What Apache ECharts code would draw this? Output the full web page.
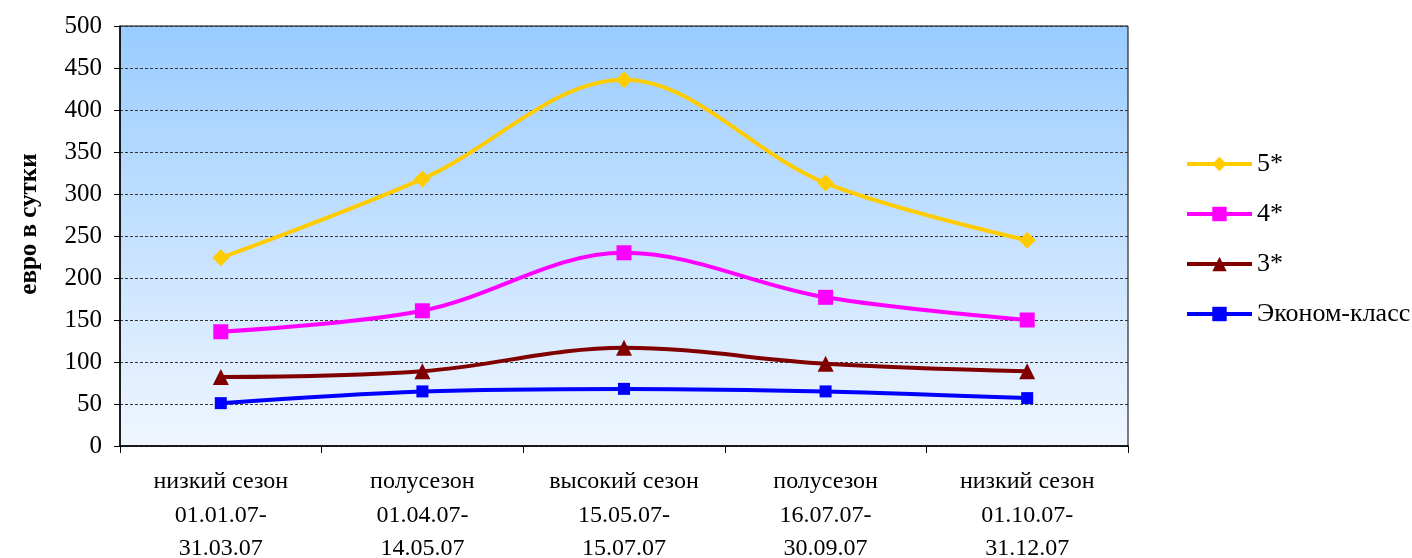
<!DOCTYPE html>
<html>
<head>
<meta charset="utf-8">
<script src="https://cdn.jsdelivr.net/npm/echarts@6/dist/echarts.min.js"></script>
<style>
  html, body { margin: 0; padding: 0; background: #fff; }
  #chart { width: 1412px; height: 558px; }
</style>
</head>
<body>
<div id="chart"></div>
<script>
// Hotel prices per night by season
const categories = [
  'низкий сезон\n01.01.07-\n31.03.07',
  'полусезон\n01.04.07-\n14.05.07',
  'высокий сезон\n15.05.07-\n15.07.07',
  'полусезон\n16.07.07-\n30.09.07',
  'низкий сезон\n01.10.07-\n31.12.07'
];
const fiveStar = [224, 318, 436, 313, 245];
const fourStar = [136, 161, 230, 177, 150];
const threeStar = [82, 89, 117, 98, 89];
const economy = [51, 65, 68, 65, 57];
const yTicks = { min: 0, max: 500, interval: 50 };

const FONT = '"Liberation Serif", "Times New Roman", serif';

function line(name, data, color, symbol, size) {
  return {
    name, type: 'line', data, smooth: 0.35,
    symbol, symbolSize: size,
    lineStyle: { color, width: 4 },
    itemStyle: { color },
    emphasis: { disabled: true }
  };
}

const chart = echarts.init(document.getElementById('chart'));
chart.setOption({
  animation: false,
  grid: {
    left: 120, right: 284, top: 26, bottom: 112,
    outerBoundsMode: 'none',
    containLabel: false,
    show: true,
    borderColor: '#000', borderWidth: 1,
    backgroundColor: {
      type: 'linear', x: 0, y: 0, x2: 0, y2: 1,
      colorStops: [
        { offset: 0, color: '#99CCFF' },
        { offset: 1, color: '#F0F6FF' }
      ]
    }
  },
  legend: {
    orient: 'vertical',
    left: 1180, top: 146,
    itemWidth: 65, itemHeight: 18, itemGap: 24,
    lineStyle: { width: 4 },
    textStyle: { fontFamily: FONT, fontSize: 26, color: '#000' },
    data: ['5*', '4*', '3*', 'Эконом-класс']
  },
  xAxis: {
    type: 'category',
    data: categories,
    boundaryGap: true,
    axisLine: { lineStyle: { color: '#000', width: 1.5 } },
    axisTick: { show: true, length: 7, lineStyle: { color: '#000' } },
    axisLabel: {
      fontFamily: FONT, fontSize: 24, color: '#000',
      lineHeight: 33.5, margin: 19, interval: 0
    },
    splitLine: { show: false }
  },
  yAxis: {
    type: 'value',
    min: yTicks.min, max: yTicks.max, interval: yTicks.interval,
    name: 'евро в сутки',
    nameLocation: 'middle', nameRotate: 90, nameGap: 78,
    nameTextStyle: {
      fontFamily: FONT, fontSize: 25, fontWeight: 'bold', color: '#000',
      padding: [0, 0, 0, 24]
    },
    axisLine: { show: true, lineStyle: { color: '#000', width: 1.5 } },
    axisTick: { show: true, length: 6, lineStyle: { color: '#000' } },
    axisLabel: { fontFamily: FONT, fontSize: 25, color: '#000', margin: 18 },
    splitLine: { show: true, lineStyle: { color: '#333', type: [3, 2], width: 1 } }
  },
  series: [
    line('5*', fiveStar, '#FFCC00', 'diamond', 17),
    line('4*', fourStar, '#FF00FF', 'rect', 15),
    line('3*', threeStar, '#800000', 'triangle', 16),
    line('Эконом-класс', economy, '#0000FF', 'rect', 12)
  ]
});
</script>
</body>
</html>
